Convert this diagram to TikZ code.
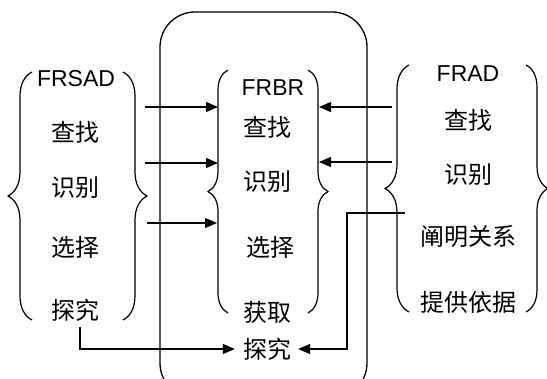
\documentclass[tikz,border=0pt]{standalone}
\usepackage{fontspec}
\setmainfont{Liberation Sans}
\newfontfamily\cjk{Noto Sans CJK SC}
\usetikzlibrary{arrows.meta,decorations.pathreplacing}
\begin{document}
\begin{tikzpicture}[x=1pt,y=-1pt,
  lbl/.style={inner sep=0pt,font=\fontsize{23}{26}\selectfont},
  zh/.style={inner sep=0pt,font=\fontsize{24}{26}\selectfont\cjk},
  arr/.style={line width=1.3pt,-{Triangle[length=12pt,width=10pt]}},
  brc/.style={line width=1.2pt,decorate,decoration={brace,amplitude=#1}}]
\useasboundingbox (0,0) rectangle (547,379);
% outer frame
\begin{scope}
\clip (0,0) rectangle (547,379);
\draw[line width=1.3pt,rounded corners=35pt] (160,12) rectangle (367,398);
\end{scope}
% left group
\node[lbl] (sadt) at (76,79) {FRSAD};
\node[zh] (sad1) at (76,132) {查找};
\node[zh] (sad2) at (76,188) {识别};
\node[zh] (sad3) at (76,247) {选择};
\node[zh] (sad4) at (76,310) {探究};
\draw[brc=24pt] (32,320) -- (32,72);
\draw[brc=24pt] (123,72) -- (123,320);
% middle group
\node[lbl] (brt) at (273,88) {FRBR};
\node[zh] (br1) at (267,127) {查找};
\node[zh] (br2) at (267,182) {识别};
\node[zh] (br3) at (270,247) {选择};
\node[zh] (br4) at (267,312) {获取};
\node[zh] (br5) at (267,349) {探究};
\draw[brc=20pt] (228,313) -- (228,70);
\draw[brc=20pt] (308,70) -- (308,313);
% right group
\node[lbl] (adt) at (468,74) {FRAD};
\node[zh] (ad1) at (468,120) {查找};
\node[zh] (ad2) at (468,175) {识别};
\node[zh] (ad3) at (468,237) {阐明关系};
\node[zh] (ad4) at (468,302) {提供依据};
\draw[brc=24pt] (409,312) -- (409,65);
\draw[brc=22pt] (526,65) -- (526,312);
% connector ends
\coordinate (la1) at (145,107);
\coordinate (lb1) at (218,107);
\coordinate (la2) at (145,163);
\coordinate (lb2) at (218,163);
\coordinate (la3) at (147,223);
\coordinate (lb3) at (217,223);
\coordinate (ra1) at (392,107);
\coordinate (rb1) at (319,107);
\coordinate (ra2) at (392,162);
\coordinate (rb2) at (319,162);
\coordinate (rs) at (405,213);
\coordinate (rk1) at (347,213);
\coordinate (rk2) at (347,349);
\coordinate (ls) at (80,327);
\coordinate (lk) at (80,349);
% connectors
\draw[arr] (la1) -- (lb1);
\draw[arr] (la2) -- (lb2);
\draw[arr] (la3) -- (lb3);
\draw[arr] (ra1) -- (rb1);
\draw[arr] (ra2) -- (rb2);
\draw[arr] (rs) -- (rk1) -- (rk2) -- ([xshift=7pt]br5.east);
\draw[arr] (ls) -- (lk) -- ([xshift=-8pt]br5.west);
\end{tikzpicture}
\end{document}
